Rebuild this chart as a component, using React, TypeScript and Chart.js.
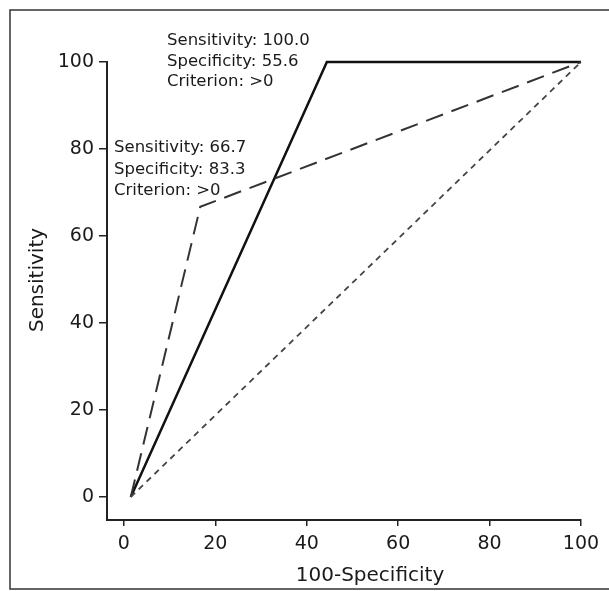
import React, { useEffect, useRef } from "react";
import { Chart, registerables } from "chart.js";

Chart.register(...registerables);

// ---- data ----
const tickValues = [0, 20, 40, 60, 80, 100];
const solidX = [1.5, 44.4, 100];
const solidY = [0, 100, 100];
const longDashX = [1.5, 16.7, 100];
const longDashY = [0, 66.7, 100];
const diagonalX = [1.5, 100];
const diagonalY = [0, 100];
const annotationA = ["Sensitivity: 100.0", "Specificity: 55.6", "Criterion: >0"];
const annotationB = ["Sensitivity: 66.7", "Specificity: 83.3", "Criterion: >0"];
const xTitle = "100-Specificity";
const yTitle = "Sensitivity";

const FONT = "'DejaVu Sans', 'Liberation Sans', Arial, sans-serif";

const toPoints = (xs: number[], ys: number[]) => xs.map((x, i) => ({ x, y: ys[i] }));

const decorPlugin = {
  id: "decor",
  beforeDraw(chart: any) {
    const ctx = chart.ctx;
    ctx.save();
    ctx.strokeStyle = "#333";
    ctx.lineWidth = 1.5;
    ctx.beginPath();
    ctx.moveTo(640, 10);
    ctx.lineTo(10, 10);
    ctx.lineTo(10, 589);
    ctx.lineTo(640, 589);
    ctx.stroke();
    ctx.restore();
  },
  afterDraw(chart: any) {
    const ctx = chart.ctx;
    ctx.save();
    ctx.fillStyle = "#1a1a1a";
    // axis titles
    ctx.font = `20px ${FONT}`;
    ctx.textAlign = "center";
    ctx.textBaseline = "middle";
    ctx.fillText(xTitle, 370, 576);
    ctx.save();
    ctx.translate(38, 280);
    ctx.rotate(-Math.PI / 2);
    ctx.fillText(yTitle, 0, 0);
    ctx.restore();
    // annotations
    ctx.font = `16.5px ${FONT}`;
    ctx.textAlign = "left";
    annotationA.forEach((t, i) => ctx.fillText(t, 167, 41 + i * 20.5));
    annotationB.forEach((t, i) => ctx.fillText(t, 114, 148 + i * 21.5));
    ctx.restore();
  },
};

export default function App() {
  const ref = useRef<HTMLCanvasElement | null>(null);
  useEffect(() => {
    if (!ref.current) return;
    const axisCommon = {
      type: "linear" as const,
      afterBuildTicks: (s: any) => {
        s.ticks = tickValues.map((v) => ({ value: v }));
      },
      ticks: {
        font: { family: FONT, size: 19 },
        color: "#1a1a1a",
        autoSkip: false,
        maxRotation: 0,
      },
      grid: {
        drawOnChartArea: false,
        drawTicks: true,
        color: "#222",
        lineWidth: 1.5,
      },
      border: { display: true, color: "#222", width: 2 },
      title: { display: false },
    };
    const chart = new Chart(ref.current, {
      type: "scatter",
      data: {
        datasets: [
          {
            data: toPoints(diagonalX, diagonalY),
            showLine: true,
            borderColor: "#444",
            borderWidth: 1.8,
            borderDash: [6, 5],
            pointRadius: 0,
            clip: false as any,
          },
          {
            data: toPoints(longDashX, longDashY),
            showLine: true,
            borderColor: "#333",
            borderWidth: 2,
            borderDash: [18, 9],
            pointRadius: 0,
            clip: false as any,
          },
          {
            data: toPoints(solidX, solidY),
            showLine: true,
            borderColor: "#111",
            borderWidth: 2.5,
            pointRadius: 0,
            clip: false as any,
          },
        ],
      },
      options: {
        animation: false,
        responsive: false,
        devicePixelRatio: 1,
        layout: { padding: { top: 62, right: 28, bottom: 0, left: 0 } },
        plugins: { legend: { display: false }, tooltip: { enabled: false } },
        scales: {
          x: {
            ...axisCommon,
            min: -3.7,
            max: 100,
            afterFit: (s: any) => {
              s.height = 71;
            },
            ticks: { ...axisCommon.ticks, padding: 7 },
            grid: { ...axisCommon.grid, tickLength: 6 },
          },
          y: {
            ...axisCommon,
            min: -5.3,
            max: 100,
            afterFit: (s: any) => {
              s.width = 107;
            },
            ticks: { ...axisCommon.ticks, padding: 5 },
            grid: { ...axisCommon.grid, tickLength: 8 },
          },
        },
      } as any,
      plugins: [decorPlugin],
    });
    return () => chart.destroy();
  }, []);
  return (
    <div style={{ position: "fixed", left: 0, top: 0, width: 609, height: 591, background: "#fff" }}>
      <canvas ref={ref} width={609} height={591} style={{ display: "block" }} />
    </div>
  );
}
